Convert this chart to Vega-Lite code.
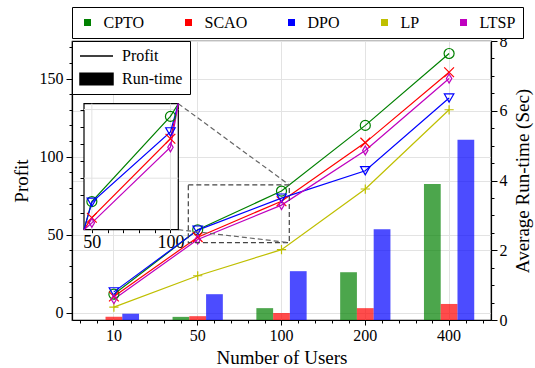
{
  "$schema": "https://vega.github.io/schema/vega-lite/v6.json",
  "width": 419,
  "height": 279,
  "autosize": {"type": "none"},
  "padding": {"left": 72, "top": 41, "right": 44, "bottom": 48},
  "config": {
    "font": "Liberation Serif",
    "view": {"stroke": "#000", "strokeWidth": 1.2},
    "axis": {
      "labelFont": "Liberation Serif", "titleFont": "Liberation Serif",
      "labelFontSize": 16, "titleFontSize": 19, "titleFontWeight": "normal",
      "labelColor": "#000", "titleColor": "#000", "domainColor": "#000", "tickColor": "#000",
      "domainWidth": 1.2, "tickWidth": 1, "gridColor": "#e3e3e3", "gridWidth": 1
    },
    "legend": {"labelFont": "Liberation Serif", "labelFontSize": 16, "labelColor": "#000"}
  },
  "datasets": {
    "profit": [
      {"users": 10, "method": "CPTO", "profit": 12},
      {"users": 50, "method": "CPTO", "profit": 53.2},
      {"users": 100, "method": "CPTO", "profit": 78},
      {"users": 200, "method": "CPTO", "profit": 120},
      {"users": 400, "method": "CPTO", "profit": 166},
      {"users": 10, "method": "SCAO", "profit": 10.5},
      {"users": 50, "method": "SCAO", "profit": 48.5},
      {"users": 100, "method": "SCAO", "profit": 71.5},
      {"users": 200, "method": "SCAO", "profit": 109},
      {"users": 400, "method": "SCAO", "profit": 154},
      {"users": 10, "method": "DPO", "profit": 13.5},
      {"users": 50, "method": "DPO", "profit": 53},
      {"users": 100, "method": "DPO", "profit": 73.5},
      {"users": 200, "method": "DPO", "profit": 91},
      {"users": 400, "method": "DPO", "profit": 137.5},
      {"users": 10, "method": "LP", "profit": 3.7},
      {"users": 50, "method": "LP", "profit": 23.8},
      {"users": 100, "method": "LP", "profit": 40.5},
      {"users": 200, "method": "LP", "profit": 79.3},
      {"users": 400, "method": "LP", "profit": 130},
      {"users": 10, "method": "LTSP", "profit": 8.8},
      {"users": 50, "method": "LTSP", "profit": 47},
      {"users": 100, "method": "LTSP", "profit": 69},
      {"users": 200, "method": "LTSP", "profit": 104},
      {"users": 400, "method": "LTSP", "profit": 150}
    ],
    "runtime": [
      {"users": 10, "method": "CPTO", "runtime": 0},
      {"users": 10, "method": "SCAO", "runtime": 0.09},
      {"users": 10, "method": "DPO", "runtime": 0.18},
      {"users": 50, "method": "CPTO", "runtime": 0.09},
      {"users": 50, "method": "SCAO", "runtime": 0.11},
      {"users": 50, "method": "DPO", "runtime": 0.74},
      {"users": 100, "method": "CPTO", "runtime": 0.34},
      {"users": 100, "method": "SCAO", "runtime": 0.2},
      {"users": 100, "method": "DPO", "runtime": 1.4},
      {"users": 200, "method": "CPTO", "runtime": 1.37},
      {"users": 200, "method": "SCAO", "runtime": 0.34},
      {"users": 200, "method": "DPO", "runtime": 2.6},
      {"users": 400, "method": "CPTO", "runtime": 3.9},
      {"users": 400, "method": "SCAO", "runtime": 0.46},
      {"users": 400, "method": "DPO", "runtime": 5.17}
    ],
    "keys": [{"kind": "Profit"}, {"kind": "Run-time"}]
  },
  "layer": [
    {
      "data": {"name": "runtime"},
      "mark": {"type": "bar", "opacity": 0.7},
      "encoding": {
        "x": {"field": "users", "type": "ordinal", "scale": {"type": "band", "domain": [10, 50, 100, 200, 400], "paddingInner": 0, "paddingOuter": 0}, "axis": null},
        "xOffset": {"field": "method", "type": "nominal", "scale": {"domain": ["CPTO", "SCAO", "DPO"], "paddingInner": 0, "paddingOuter": 1.23}},
        "y": {
          "field": "runtime", "type": "quantitative",
          "scale": {"domain": [0, 8], "nice": false, "zero": false},
          "axis": {
            "orient": "right", "title": "Average Run-time (Sec)", "titleAngle": 270, "titleBaseline": "top", "titlePadding": 6,
            "values": [0, 0.5, 1, 1.5, 2, 2.5, 3, 3.5, 4, 4.5, 5, 5.5, 6, 6.5, 7, 7.5, 8],
            "labelExpr": "datum.value % 2 === 0 ? '' + datum.value : ''",
            "tickSize": {"condition": {"test": "datum.value % 2 === 0", "value": 6}, "value": 3},
            "grid": true,
            "gridOpacity": {"condition": {"test": "datum.value % 2 === 0", "value": 1}, "value": 0},
            "labelPadding": 2, "labelOverlap": false, "labelFlush": false
          }
        },
        "color": {
          "field": "method", "type": "nominal",
          "scale": {"domain": ["CPTO", "SCAO", "DPO", "LP", "LTSP"], "range": ["#008000", "#ff0000", "#0000ff", "#bfbf00", "#bf00bf"]},
          "legend": {
            "title": null, "orient": "none", "legendX": 0, "legendY": -34, "direction": "horizontal", "columns": 5,
            "symbolType": "square", "symbolSize": 49, "symbolOpacity": 1, "labelFontSize": 16, "labelOffset": 8,
            "columnPadding": 36, "padding": 7.5, "strokeColor": "#000", "fillColor": "#fff"
          }
        }
      }
    },
    {
      "data": {"name": "profit"},
      "mark": {"type": "line", "strokeWidth": 1.2},
      "encoding": {
        "x": {
          "field": "users", "type": "ordinal", "bandPosition": 0.5,
          "scale": {"type": "band", "domain": [10, 50, 100, 200, 400], "paddingInner": 0, "paddingOuter": 0},
          "axis": {"orient": "bottom", "title": "Number of Users", "labelAngle": 0, "tickSize": 5, "labelPadding": 2, "titlePadding": 5, "grid": true, "bandPosition": 0.5}
        },
        "y": {
          "field": "profit", "type": "quantitative",
          "scale": {"domain": [-4.5, 174], "nice": false, "zero": false},
          "axis": {
            "orient": "left", "title": "Profit", "titlePadding": 8,
            "values": [0, 10, 20, 30, 40, 50, 60, 70, 80, 90, 100, 110, 120, 130, 140, 150, 160, 170],
            "labelExpr": "datum.value % 50 === 0 ? '' + datum.value : ''",
            "tickSize": {"condition": {"test": "datum.value % 50 === 0", "value": 6}, "value": 3},
            "grid": true,
            "gridOpacity": {"condition": {"test": "datum.value % 50 === 0", "value": 1}, "value": 0},
            "labelPadding": 3, "labelOverlap": false, "labelFlush": false
          }
        },
        "color": {"field": "method", "type": "nominal", "scale": {"domain": ["CPTO", "SCAO", "DPO", "LP", "LTSP"], "range": ["#008000", "#ff0000", "#0000ff", "#bfbf00", "#bf00bf"]}, "legend": null}
      }
    },
    {
      "data": {"name": "profit"},
      "mark": {"type": "point", "filled": false, "strokeWidth": 1.2, "opacity": 1},
      "encoding": {
        "x": {"field": "users", "type": "ordinal", "bandPosition": 0.5, "scale": {"type": "band", "domain": [10, 50, 100, 200, 400], "paddingInner": 0, "paddingOuter": 0}, "axis": null},
        "y": {"field": "profit", "type": "quantitative", "scale": {"domain": [-4.5, 174], "nice": false, "zero": false}, "axis": null},
        "color": {"field": "method", "type": "nominal", "scale": {"domain": ["CPTO", "SCAO", "DPO", "LP", "LTSP"], "range": ["#008000", "#ff0000", "#0000ff", "#bfbf00", "#bf00bf"]}, "legend": null},
        "shape": {"field": "method", "type": "nominal", "scale": {"domain": ["CPTO", "SCAO", "DPO", "LP", "LTSP"], "range": ["circle", "M-1,-1L1,1M-1,1L1,-1", "triangle-down", "M-1,0H1M0,-1V1", "M0,-1L0.6,0L0,1L-0.6,0Z"]}, "legend": null},
        "size": {"field": "method", "type": "nominal", "scale": {"domain": ["CPTO", "SCAO", "DPO", "LP", "LTSP"], "range": [100, 80, 115, 64, 115]}, "legend": null}
      }
    },
    {
      "data": {"values": [{}]},
      "mark": {"type": "rect", "fillOpacity": 0, "stroke": "#444", "strokeDash": [5, 3], "strokeWidth": 1.2},
      "encoding": {
        "x": {"datum": 50, "type": "ordinal", "bandPosition": 0.388, "scale": {"type": "band", "domain": [10, 50, 100, 200, 400], "paddingInner": 0, "paddingOuter": 0}, "axis": null},
        "x2": {"datum": 100, "bandPosition": 0.593},
        "y": {"datum": 45, "type": "quantitative", "scale": {"domain": [-4.5, 174], "nice": false, "zero": false}, "axis": null},
        "y2": {"datum": 81.9}
      }
    },
    {
      "data": {"values": [{}]},
      "mark": {"type": "rule", "stroke": "#666", "strokeDash": [5, 3], "strokeWidth": 1.2},
      "encoding": {
        "x": {"datum": 50, "type": "ordinal", "bandPosition": 0.2685, "scale": {"type": "band", "domain": [10, 50, 100, 200, 400], "paddingInner": 0, "paddingOuter": 0}, "axis": null},
        "x2": {"datum": 100, "bandPosition": 0.593},
        "y": {"datum": 133.9, "type": "quantitative", "scale": {"domain": [-4.5, 174], "nice": false, "zero": false}, "axis": null},
        "y2": {"datum": 81.9}
      }
    },
    {
      "data": {"values": [{}]},
      "mark": {"type": "rule", "stroke": "#666", "strokeDash": [5, 3], "strokeWidth": 1.2},
      "encoding": {
        "x": {"datum": 50, "type": "ordinal", "bandPosition": 0.2685, "scale": {"type": "band", "domain": [10, 50, 100, 200, 400], "paddingInner": 0, "paddingOuter": 0}, "axis": null},
        "x2": {"datum": 100, "bandPosition": 0.593},
        "y": {"datum": 53.3, "type": "quantitative", "scale": {"domain": [-4.5, 174], "nice": false, "zero": false}, "axis": null},
        "y2": {"datum": 45}
      }
    },
    {
      "data": {"name": "keys"},
      "mark": {"type": "point", "filled": true, "color": "#000", "stroke": "#000", "strokeWidth": 1.5, "opacity": 0},
      "encoding": {
        "x": {
          "datum": 0, "type": "quantitative",
          "scale": {"domain": [-0.5, 4.5], "nice": false, "zero": false},
          "axis": {"orient": "bottom", "values": [-0.4, -0.2, 0.2, 0.4, 0.6, 0.8, 1.2, 1.4, 1.6, 1.8, 2.2, 2.4, 2.6, 2.8, 3.2, 3.4, 3.6, 3.8, 4.2, 4.4], "labels": false, "domain": false, "grid": false, "tickSize": 3, "title": null}
        },
        "shape": {
          "field": "kind", "type": "nominal",
          "scale": {"domain": ["Profit", "Run-time"], "range": ["stroke", "M-1,-0.35H1V0.35H-1Z"]},
          "legend": {"title": null, "orient": "top-left", "offset": 0, "padding": 7, "symbolSize": 1089, "clipHeight": 16, "labelOffset": 8, "rowPadding": 7, "fillColor": "#fff", "strokeColor": "#000", "symbolOpacity": 1, "labelFontSize": 16}
        }
      }
    },
    {
      "data": {"values": [{}]},
      "mark": {"type": "rect", "fill": "#fff", "stroke": "#000", "strokeWidth": 1.2},
      "encoding": {
        "x": {
          "datum": 45, "type": "quantitative",
          "scale": {"domain": [45, 105], "range": [12, 106.3], "clamp": true, "nice": false, "zero": false},
          "axis": {"orient": "bottom", "offset": -90.3, "values": [50, 60, 70, 80, 90, 100], "labelExpr": "datum.value % 50 === 0 ? '' + datum.value : ''", "tickSize": 3, "domain": false, "grid": false, "title": null, "labelFontSize": 18, "labelPadding": 1, "labelOverlap": false, "labelFlush": false}
        },
        "x2": {"datum": 105},
        "y": {
          "datum": 45, "type": "quantitative",
          "scale": {"domain": [45, 81.7], "range": [188.7, 62.7], "clamp": true, "nice": false, "zero": false},
          "axis": {"orient": "left", "offset": -12, "values": [50, 55, 60, 65, 70, 75, 80], "labels": false, "tickSize": 4, "domain": false, "grid": false, "title": null}
        },
        "y2": {"datum": 81.7}
      }
    },
    {
      "data": {"values": [{}]},
      "mark": {"type": "rule", "stroke": "#e3e3e3", "strokeWidth": 1},
      "encoding": {
        "x": {"datum": 50, "type": "quantitative", "scale": {"domain": [45, 105], "range": [12, 106.3], "clamp": true, "nice": false, "zero": false}, "axis": null},
        "y": {"datum": 45, "type": "quantitative", "scale": {"domain": [45, 81.7], "range": [188.7, 62.7], "clamp": true, "nice": false, "zero": false}, "axis": null},
        "y2": {"datum": 81.7}
      }
    },
    {
      "data": {"values": [{}]},
      "mark": {"type": "rule", "stroke": "#e3e3e3", "strokeWidth": 1},
      "encoding": {
        "x": {"datum": 100, "type": "quantitative", "scale": {"domain": [45, 105], "range": [12, 106.3], "clamp": true, "nice": false, "zero": false}, "axis": null},
        "y": {"datum": 45, "type": "quantitative", "scale": {"domain": [45, 81.7], "range": [188.7, 62.7], "clamp": true, "nice": false, "zero": false}, "axis": null},
        "y2": {"datum": 81.7}
      }
    },
    {
      "data": {"values": [{}]},
      "mark": {"type": "rule", "stroke": "#e3e3e3", "strokeWidth": 1},
      "encoding": {
        "x": {"datum": 45, "type": "quantitative", "scale": {"domain": [45, 105], "range": [12, 106.3], "clamp": true, "nice": false, "zero": false}, "axis": null},
        "x2": {"datum": 105},
        "y": {"datum": 60, "type": "quantitative", "scale": {"domain": [45, 81.7], "range": [188.7, 62.7], "clamp": true, "nice": false, "zero": false}, "axis": null}
      }
    },
    {
      "data": {"values": [{}]},
      "mark": {"type": "rule", "stroke": "#e3e3e3", "strokeWidth": 1},
      "encoding": {
        "x": {"datum": 45, "type": "quantitative", "scale": {"domain": [45, 105], "range": [12, 106.3], "clamp": true, "nice": false, "zero": false}, "axis": null},
        "x2": {"datum": 105},
        "y": {"datum": 80, "type": "quantitative", "scale": {"domain": [45, 81.7], "range": [188.7, 62.7], "clamp": true, "nice": false, "zero": false}, "axis": null}
      }
    },
    {
      "data": {"name": "profit"},
      "transform": [{"filter": "datum.method !== 'LP'"}],
      "mark": {"type": "line", "strokeWidth": 1.2},
      "encoding": {
        "x": {"field": "users", "type": "quantitative", "scale": {"domain": [45, 105], "range": [12, 106.3], "clamp": true, "nice": false, "zero": false}, "axis": null},
        "y": {"field": "profit", "type": "quantitative", "scale": {"domain": [45, 81.7], "range": [188.7, 62.7], "clamp": true, "nice": false, "zero": false}, "axis": null},
        "color": {"field": "method", "type": "nominal", "scale": {"domain": ["CPTO", "SCAO", "DPO", "LP", "LTSP"], "range": ["#008000", "#ff0000", "#0000ff", "#bfbf00", "#bf00bf"]}, "legend": null}
      }
    },
    {
      "data": {"name": "profit"},
      "transform": [{"filter": "datum.method !== 'LP' && (datum.users === 50 || datum.users === 100)"}],
      "mark": {"type": "point", "filled": false, "strokeWidth": 1.2, "opacity": 1},
      "encoding": {
        "x": {"field": "users", "type": "quantitative", "scale": {"domain": [45, 105], "range": [12, 106.3], "clamp": true, "nice": false, "zero": false}, "axis": null},
        "y": {"field": "profit", "type": "quantitative", "scale": {"domain": [45, 81.7], "range": [188.7, 62.7], "clamp": true, "nice": false, "zero": false}, "axis": null},
        "color": {"field": "method", "type": "nominal", "scale": {"domain": ["CPTO", "SCAO", "DPO", "LP", "LTSP"], "range": ["#008000", "#ff0000", "#0000ff", "#bfbf00", "#bf00bf"]}, "legend": null},
        "shape": {"field": "method", "type": "nominal", "scale": {"domain": ["CPTO", "SCAO", "DPO", "LP", "LTSP"], "range": ["circle", "M-1,-1L1,1M-1,1L1,-1", "triangle-down", "M-1,0H1M0,-1V1", "M0,-1L0.6,0L0,1L-0.6,0Z"]}, "legend": null},
        "size": {"field": "method", "type": "nominal", "scale": {"domain": ["CPTO", "SCAO", "DPO", "LP", "LTSP"], "range": [100, 80, 115, 64, 115]}, "legend": null}
      }
    }
  ],
  "resolve": {
    "scale": {"x": "independent", "y": "independent", "color": "independent", "shape": "independent", "size": "independent"},
    "axis": {"x": "independent", "y": "independent"},
    "legend": {"color": "independent", "shape": "independent", "size": "independent"}
  }
}
